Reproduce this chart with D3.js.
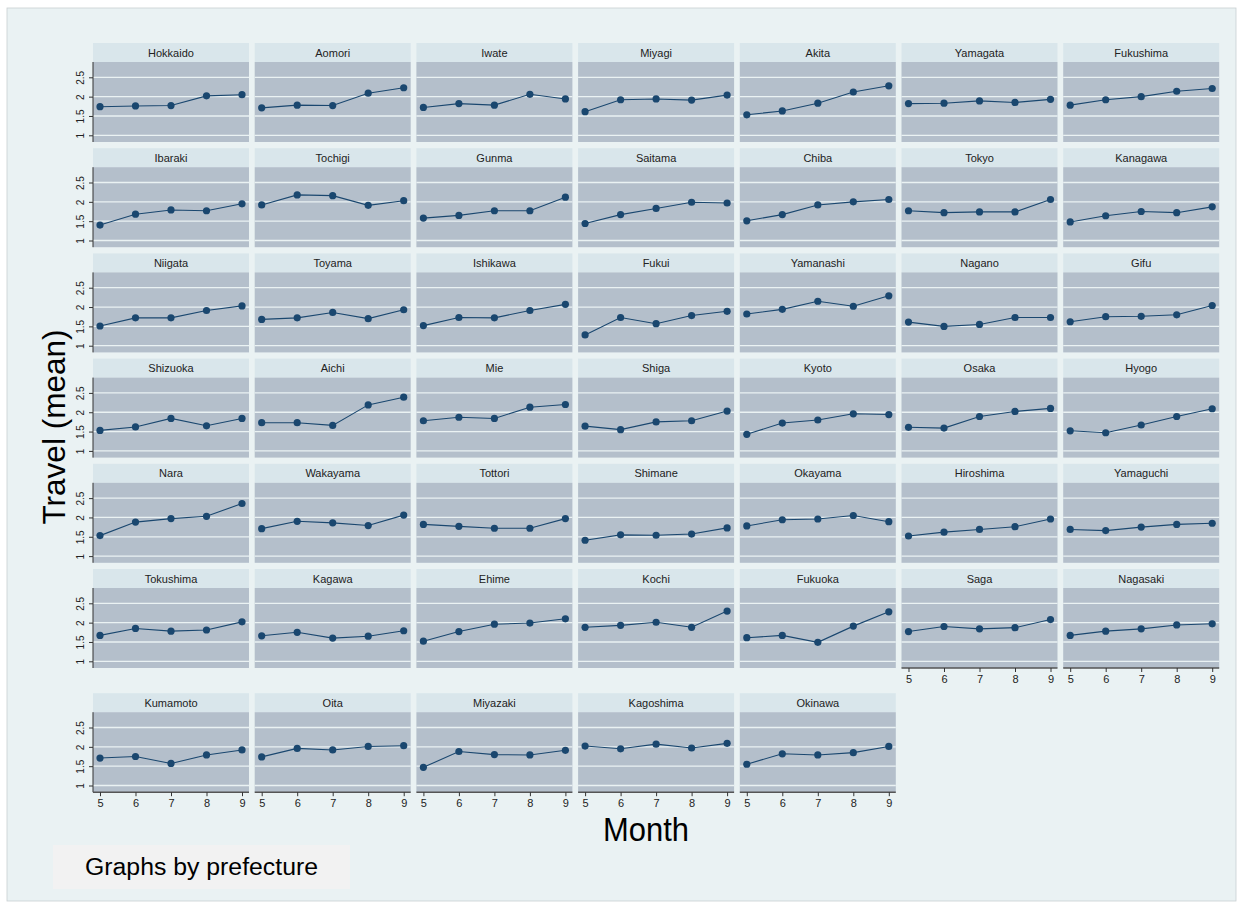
<!DOCTYPE html>
<html>
<head>
<meta charset="utf-8">
<script src="https://cdn.jsdelivr.net/npm/d3@7"></script>
<style>
  body { margin: 0; background: #ffffff; }
  svg { display: block; font-family: "Liberation Sans", Arial, sans-serif; }
</style>
</head>
<body>
<div id="chart"></div>
<script>

///////////////////////////////////////////////////////////////////////
// data

let prefectures = [
    "Hokkaido", "Aomori", "Iwate", "Miyagi", "Akita", "Yamagata", "Fukushima",
    "Ibaraki", "Tochigi", "Gunma", "Saitama", "Chiba", "Tokyo", "Kanagawa",
    "Niigata", "Toyama", "Ishikawa", "Fukui", "Yamanashi", "Nagano", "Gifu",
    "Shizuoka", "Aichi", "Mie", "Shiga", "Kyoto", "Osaka", "Hyogo",
    "Nara", "Wakayama", "Tottori", "Shimane", "Okayama", "Hiroshima", "Yamaguchi",
    "Tokushima", "Kagawa", "Ehime", "Kochi", "Fukuoka", "Saga", "Nagasaki",
    "Kumamoto", "Oita", "Miyazaki", "Kagoshima", "Okinawa"
];

let months = [5, 6, 7, 8, 9];

// mean travel, one row per prefecture, months 5..9
let travel = [
    [1.74, 1.76, 1.77, 2.02, 2.05],
    [1.71, 1.78, 1.77, 2.09, 2.23],
    [1.72, 1.82, 1.78, 2.06, 1.94],
    [1.61, 1.92, 1.94, 1.91, 2.04],
    [1.53, 1.63, 1.83, 2.12, 2.28],
    [1.82, 1.83, 1.89, 1.85, 1.93],
    [1.78, 1.92, 2.00, 2.14, 2.21],

    [1.40, 1.68, 1.79, 1.77, 1.95],
    [1.92, 2.18, 2.16, 1.91, 2.03],
    [1.58, 1.65, 1.77, 1.77, 2.12],
    [1.44, 1.67, 1.83, 1.99, 1.97],
    [1.51, 1.67, 1.92, 2.00, 2.06],
    [1.77, 1.72, 1.74, 1.74, 2.06],
    [1.48, 1.64, 1.75, 1.72, 1.87],

    [1.51, 1.72, 1.72, 1.91, 2.03],
    [1.68, 1.72, 1.86, 1.70, 1.93],
    [1.52, 1.73, 1.72, 1.91, 2.07],
    [1.28, 1.73, 1.57, 1.78, 1.89],
    [1.82, 1.94, 2.15, 2.02, 2.29],
    [1.61, 1.50, 1.55, 1.73, 1.73],
    [1.62, 1.75, 1.76, 1.80, 2.04],

    [1.53, 1.62, 1.84, 1.65, 1.84],
    [1.73, 1.73, 1.66, 2.19, 2.39],
    [1.78, 1.87, 1.84, 2.13, 2.20],
    [1.64, 1.55, 1.75, 1.78, 2.03],
    [1.43, 1.72, 1.80, 1.96, 1.94],
    [1.61, 1.59, 1.89, 2.02, 2.10],
    [1.52, 1.47, 1.67, 1.89, 2.09],

    [1.53, 1.88, 1.97, 2.03, 2.36],
    [1.71, 1.90, 1.86, 1.79, 2.06],
    [1.82, 1.77, 1.72, 1.72, 1.97],
    [1.41, 1.55, 1.54, 1.57, 1.73],
    [1.78, 1.94, 1.96, 2.05, 1.89],
    [1.52, 1.62, 1.69, 1.76, 1.96],
    [1.69, 1.66, 1.75, 1.82, 1.85],

    [1.67, 1.85, 1.78, 1.81, 2.02],
    [1.66, 1.75, 1.60, 1.65, 1.79],
    [1.52, 1.77, 1.96, 1.99, 2.10],
    [1.88, 1.93, 2.01, 1.88, 2.30],
    [1.61, 1.67, 1.49, 1.91, 2.28],
    [1.77, 1.90, 1.84, 1.87, 2.08],
    [1.67, 1.78, 1.84, 1.94, 1.97],

    [1.71, 1.75, 1.57, 1.79, 1.92],
    [1.74, 1.96, 1.92, 2.01, 2.03],
    [1.47, 1.88, 1.80, 1.79, 1.91],
    [2.02, 1.95, 2.07, 1.97, 2.09],
    [1.55, 1.82, 1.79, 1.85, 2.01]
];

let yTicks = [1, 1.5, 2, 2.5];

///////////////////////////////////////////////////////////////////////
// layout

let W = 1243, H = 909;
let nCols = 7;
let nRows = Math.ceil(prefectures.length / nCols);

let left0 = 93, colStep = 161.7, panelW = 156;
let top0 = 43, rowStep = 105.2, stripH = 19, plotH = 80;

let navy = "#1a476f";

function panelX(c){ return left0 + c * colStep; }
function panelY(r){ return top0 + r * rowStep + (r == nRows - 1 ? 19 : 0); }

// the lowest panel in each column gets the month axis
function isBottom(i){
    let r = Math.floor(i / nCols), c = i % nCols;
    return (r + 1) * nCols + c >= prefectures.length;
}

let x = d3.scaleLinear().domain([4.803, 9.197]).range([0, panelW]);
let y = d3.scaleLinear().domain([0.827, 2.896]).range([plotH, 0]);

let svg = d3.select("#chart")
            .append("svg")
            .attr("width", W)
            .attr("height", H);

svg.append("rect")
   .attr("x", 7).attr("y", 8)
   .attr("width", 1229).attr("height", 893)
   .attr("fill", "#eaf2f3")
   .attr("stroke", "#c9cfd1")
   .attr("stroke-width", 0.8);

let line = d3.line()
    .x((d, k) => x(months[k]))
    .y(d => y(d));

///////////////////////////////////////////////////////////////////////
// panels

prefectures.forEach(function(name, i){
    let r = Math.floor(i / nCols), c = i % nCols;
    let g = svg.append("g")
               .attr("transform", "translate(" + panelX(c) + "," + panelY(r) + ")");

    g.append("rect")
     .attr("width", panelW).attr("height", stripH)
     .attr("fill", "#d9e6eb");

    g.append("text")
     .attr("x", panelW / 2).attr("y", stripH / 2 + 4)
     .attr("text-anchor", "middle")
     .attr("font-size", 11)
     .attr("fill", "#222")
     .text(name);

    let p = g.append("g").attr("transform", "translate(0," + stripH + ")");

    p.append("rect")
     .attr("width", panelW).attr("height", plotH)
     .attr("fill", "#b4bfcb");

    p.selectAll(".grid")
     .data(yTicks)
     .enter().append("line")
     .attr("x1", 0).attr("x2", panelW)
     .attr("y1", d => y(d)).attr("y2", d => y(d))
     .attr("stroke", "#eaf2f3")
     .attr("stroke-width", 1.3);

    p.append("path")
     .datum(travel[i])
     .attr("d", line)
     .attr("fill", "none")
     .attr("stroke", navy)
     .attr("stroke-width", 1.1);

    p.selectAll(".dot")
     .data(travel[i])
     .enter().append("circle")
     .attr("cx", (d, k) => x(months[k]))
     .attr("cy", d => y(d))
     .attr("r", 3.6)
     .attr("fill", navy);

    if(c == 0){
        let ay = p.append("g")
                  .call(d3.axisLeft(y).tickValues(yTicks).tickSize(4).tickFormat(d3.format("")));
        ay.select(".domain").attr("stroke", "#333").attr("d", "M0,0V" + plotH);
        ay.selectAll(".tick line").attr("stroke", "#333");
        ay.selectAll(".tick text")
          .attr("font-size", 10)
          .attr("fill", "#222")
          .attr("font-family", "Liberation Sans, Arial, sans-serif")
          .attr("transform", "rotate(-90)")
          .attr("x", 0).attr("y", -9)
          .attr("dy", 0)
          .attr("text-anchor", "middle");
    }

    if(isBottom(i)){
        let ax = p.append("g")
                  .attr("transform", "translate(0," + plotH + ")")
                  .call(d3.axisBottom(x).tickValues(months).tickSize(4).tickFormat(d3.format("d")));
        ax.select(".domain").attr("stroke", "#555").attr("stroke-width", 1.4).attr("d", "M0,0H" + panelW);
        ax.selectAll(".tick line").attr("stroke", "#333");
        ax.selectAll(".tick text")
          .attr("font-size", 11)
          .attr("fill", "#222")
          .attr("font-family", "Liberation Sans, Arial, sans-serif")
          .attr("y", 7);
    }
});

///////////////////////////////////////////////////////////////////////
// titles and note

svg.append("text")
   .attr("transform", "translate(65,427) rotate(-90)")
   .attr("text-anchor", "middle")
   .attr("font-size", 31)
   .attr("fill", "#000")
   .attr("textLength", 195)
   .attr("lengthAdjust", "spacingAndGlyphs")
   .text("Travel (mean)");

svg.append("text")
   .attr("x", 646).attr("y", 841)
   .attr("text-anchor", "middle")
   .attr("font-size", 33)
   .attr("fill", "#000")
   .attr("textLength", 86)
   .attr("lengthAdjust", "spacingAndGlyphs")
   .text("Month");

svg.append("rect")
   .attr("x", 53).attr("y", 845)
   .attr("width", 297).attr("height", 44)
   .attr("fill", "#f2f2f2");

svg.append("text")
   .attr("x", 85).attr("y", 875)
   .attr("font-size", 23)
   .attr("fill", "#000")
   .attr("textLength", 233)
   .attr("lengthAdjust", "spacingAndGlyphs")
   .text("Graphs by prefecture");

</script>
</body>
</html>
